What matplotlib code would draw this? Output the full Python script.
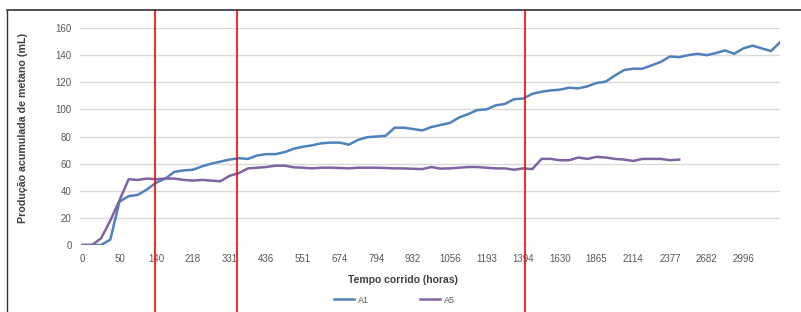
import numpy as np
import matplotlib
matplotlib.use("Agg")
import matplotlib.pyplot as plt
from matplotlib.lines import Line2D

plt.rcParams['font.family'] = ['Liberation Sans', 'DejaVu Sans']

# rotulos do eixo x (um a cada 4 pontos)
rotulos_x = ['0', '50', '140', '218', '331', '436', '551', '674', '794', '932',
             '1056', '1193', '1394', '1630', '1865', '2114', '2377', '2682', '2996']
passo_rotulo = 4

# producao acumulada de metano (mL)
a1 = [0, 0, 0, 4, 32, 36, 37, 41, 46, 49,
      54, 55, 55.5, 58, 60, 61.5, 63, 64, 63.5, 66,
      67, 67, 68.5, 71, 72.5, 73.5, 75, 75.5, 75.5, 74,
      77.5, 79.5, 80, 80.5, 86.5, 86.5, 85.5, 84.5, 87, 88.5,
      90, 94, 96.5, 99.5, 100, 103, 104, 107.5, 108, 111.5,
      113, 114, 114.5, 116, 115.5, 117, 119.5, 120.5, 125, 129,
      130, 130, 132.5, 135, 139, 138.5, 140, 141, 140, 141.5,
      143.5, 141, 145, 147, 145, 143, 149.5]
a5 = [0, 0, 5, 18, 33, 48.5, 48, 49, 48.5, 49,
      49, 48, 47.5, 48, 47.5, 47, 51, 53, 56.5, 57,
      57.5, 58.5, 58.5, 57.3, 57, 56.5, 57, 57, 56.8, 56.5,
      57, 57, 57, 56.8, 56.5, 56.5, 56.2, 56, 57.5, 56.3,
      56.5, 57, 57.5, 57.5, 57, 56.5, 56.5, 55.5, 56.5, 56,
      63.5, 63.5, 62.5, 62.5, 64.5, 63.5, 65, 64.5, 63.5, 63,
      62, 63.5, 63.5, 63.5, 62.5, 63]

# marcacoes em vermelho (posicao na escala de categorias)
marcos = [7.85, 16.8, 48.2]

fig = plt.figure(figsize=(8.01, 3.12), dpi=100)
ax = fig.add_axes([0.0999, 0.2147, 0.874, 0.6955])

ax.plot(np.arange(len(a1)), a1, color='#4f81bd', lw=1.8, label='A1')
ax.plot(np.arange(len(a5)), a5, color='#8064a2', lw=1.8, label='A5')

ax.set_xlim(-0.3, 76)
ax.set_ylim(0, 160)
ax.set_yticks(range(0, 161, 20))
ax.set_xticks(np.arange(len(rotulos_x)) * passo_rotulo)
ax.set_xticklabels(rotulos_x)
ax.tick_params(length=0, labelsize=7, labelcolor='#595959')
ax.tick_params(axis='x', pad=6.5)
ax.tick_params(axis='y', pad=6)
ax.grid(axis='y', color='#d9d9d9', lw=1)
ax.set_axisbelow(True)
for s in ax.spines.values():
    s.set_visible(False)

ax.set_ylabel('Produção acumulada de metano (mL)', fontsize=7.7, fontweight='bold', color='#404040')
ax.yaxis.set_label_coords(-0.074, 0.54)
ax.set_xlabel('Tempo corrido (horas)', fontsize=7.5, fontweight='bold', color='#404040')
ax.xaxis.set_label_coords(0.461, -0.161)
ax.xaxis.label.set_va('center')

fig.legend(loc='center', bbox_to_anchor=(0.4925, 0.038), ncol=2, frameon=False,
           fontsize=6.5, handlelength=2.2, handletextpad=0.4, columnspacing=5.7,
           labelcolor='#595959')

for m in marcos:
    ax.axvline(m, ymin=-0.31, ymax=1.083, color='#ff0000', lw=1.2, clip_on=False)

# moldura da captura de tela
fig.add_artist(Line2D([7 / 801, 7 / 801], [0, 1 - 10 / 312], transform=fig.transFigure, color='#333333', lw=1))
fig.add_artist(Line2D([7 / 801, 1], [1 - 10 / 312, 1 - 10 / 312], transform=fig.transFigure, color='#333333', lw=1.2))

fig.savefig('out.png', dpi=100)
